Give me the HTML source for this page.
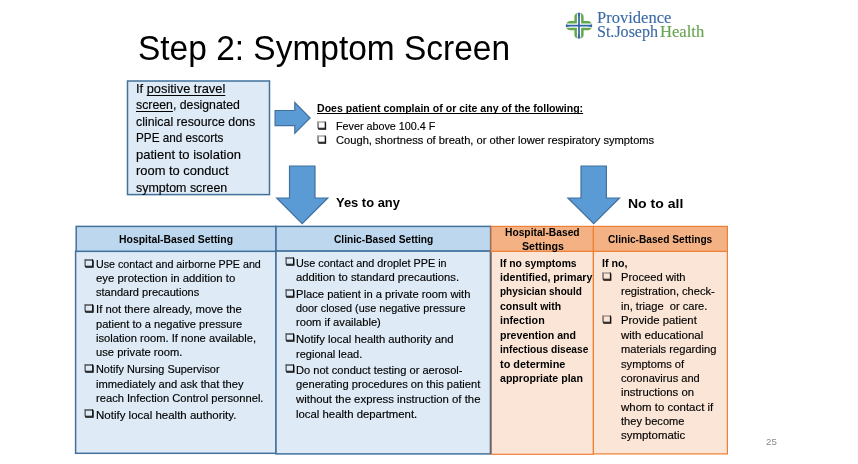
<!DOCTYPE html>
<html lang="en"><head><meta charset="utf-8">
<title>Step 2: Symptom Screen</title>
<style>
html,body{margin:0;padding:0;}
body{width:858px;height:464px;position:relative;overflow:hidden;background:#fff;font-family:'Liberation Sans', sans-serif;color:#000;}
#page{position:absolute;left:0;top:0;width:858px;height:464px;overflow:hidden;background:#fff;filter:blur(0.3px);}
.t{position:absolute;white-space:nowrap;line-height:1;transform-origin:0 0;margin:0;padding:0;}
.r{-webkit-text-stroke:0.15px #000;}
u{text-decoration:underline;text-decoration-thickness:1.2px;text-underline-offset:1.5px;text-decoration-skip-ink:none;}
u.h{text-underline-offset:0.9px;}
svg.bg{position:absolute;left:0;top:0;}
</style></head>
<body>
<div id="page">
<svg class="bg" width="858" height="464" viewBox="0 0 858 464">
<g stroke="#41719c" stroke-width="1.5" stroke-linejoin="miter">
<rect x="127.5" y="81" width="142" height="113.6" fill="#deeaf6"/>
<rect x="75.6" y="251.3" width="200.4" height="202" fill="#deeaf6"/>
<rect x="276" y="250.9" width="214.6" height="203" fill="#deeaf6"/>
<rect x="76.2" y="226.4" width="199.8" height="24.9" fill="#bdd7ee"/>
<rect x="276" y="226.4" width="214.6" height="24.5" fill="#bdd7ee"/>
</g>
<g stroke="#ee8036" stroke-width="1.2">
<rect x="491.2" y="251.3" width="102.2" height="203" fill="#fbe5d6"/>
<rect x="593.4" y="251.3" width="134" height="202.6" fill="#fbe5d6"/>
<rect x="491.2" y="226.4" width="102.2" height="24.9" fill="#f4b183"/>
<rect x="593.4" y="226.4" width="134" height="24.9" fill="#f4b183"/>
</g>
<line x1="490.6" y1="252" x2="490.6" y2="454" stroke="#56687f" stroke-width="1.6"/>
<g fill="#5b9bd5" stroke="#41719c" stroke-width="1.2">
<polygon points="275.1,110.5 294.8,110.5 294.8,102.5 310.1,118 294.8,133.4 294.8,125.7 275.1,125.7"/>
<polygon points="289.5,166 315,166 315,198 327.8,198 302.2,223.6 276.7,198 289.5,198"/>
<polygon points="581,166 606.4,166 606.4,198 619.5,198 593.7,223.6 567.9,198 581,198"/>
</g>
<g transform="translate(579 25.7)">
<g fill="#62a84c">
<path d="M-2.1,-2.1 L-12.6,-2.1 L-12.2,-2.9 Q-11,-4.6 -9.2,-4.6 L-4.6,-4.6 L-4.6,-9.2 Q-4.6,-11 -2.9,-12.2 L-2.1,-12.6 Z"/>
<path d="M-2.1,-2.1 L-12.6,-2.1 L-12.2,-2.9 Q-11,-4.6 -9.2,-4.6 L-4.6,-4.6 L-4.6,-9.2 Q-4.6,-11 -2.9,-12.2 L-2.1,-12.6 Z" transform="scale(-1 1)"/>
<path d="M-2.1,-2.1 L-12.6,-2.1 L-12.2,-2.9 Q-11,-4.6 -9.2,-4.6 L-4.6,-4.6 L-4.6,-9.2 Q-4.6,-11 -2.9,-12.2 L-2.1,-12.6 Z" transform="scale(1 -1)"/>
<path d="M-2.1,-2.1 L-12.6,-2.1 L-12.2,-2.9 Q-11,-4.6 -9.2,-4.6 L-4.6,-4.6 L-4.6,-9.2 Q-4.6,-11 -2.9,-12.2 L-2.1,-12.6 Z" transform="scale(-1 -1)"/>
</g>
<path fill="#2f62a8" d="M-1.5,-12.9 L1.5,-12.9 Q0.85,-11 0.85,-8 L0.85,-0.85 L8,-0.85 Q11,-0.85 13.1,-1.5 L13.1,1.5 Q11,0.85 8,0.85 L0.85,0.85 L0.85,8 Q0.85,11 1.5,12.9 L-1.5,12.9 Q-0.85,11 -0.85,8 L-0.85,0.85 L-8,0.85 Q-11,0.85 -13.1,1.5 L-13.1,-1.5 Q-11,-0.85 -8,-0.85 L-0.85,-0.85 L-0.85,-8 Q-0.85,-11 -1.5,-12.9 Z"/>
</g>
</svg>
<div class="t" style="left:138.30px;top:30.00px;font-size:35.00px;transform:scaleX(0.9563);">Step 2: Symptom Screen</div>
<div class="t r" style="left:136.11px;top:83.00px;font-size:12.20px;transform:scaleX(1.0542);">If <u>positive travel</u></div>
<div class="t r" style="left:136.25px;top:99.00px;font-size:12.20px;transform:scaleX(1.0085);"><u>screen</u>, designated</div>
<div class="t r" style="left:136.19px;top:116.00px;font-size:12.20px;transform:scaleX(1.0165);">clinical resource dons</div>
<div class="t r" style="left:136.36px;top:132.00px;font-size:12.20px;transform:scaleX(0.9621);">PPE and escorts</div>
<div class="t r" style="left:136.45px;top:149.00px;font-size:12.20px;transform:scaleX(1.0675);">patient to isolation</div>
<div class="t r" style="left:136.45px;top:165.00px;font-size:12.20px;transform:scaleX(1.0596);">room to conduct</div>
<div class="t r" style="left:136.25px;top:182.00px;font-size:12.20px;transform:scaleX(1.0203);">symptom screen</div>
<div class="t" style="left:316.76px;top:103.00px;font-size:10.60px;font-weight:700;transform:scaleX(0.9982);"><u class="h">Does patient complain of or cite any of the following:</u></div>
<div class="t r" style="left:335.77px;top:122.00px;font-size:10.00px;transform:scaleX(1.0750);">Fever above 100.4 F</div>
<div class="t r" style="left:335.92px;top:136.00px;font-size:10.00px;transform:scaleX(1.1138);">Cough, shortness of breath, or other lower respiratory symptoms</div>
<div class="t" style="left:335.92px;top:196.00px;font-size:13.50px;font-weight:700;transform:scaleX(0.9572);">Yes to any</div>
<div class="t" style="left:627.96px;top:197.00px;font-size:13.50px;font-weight:700;transform:scaleX(1.0382);">No to all</div>
<div class="t" style="left:119.16px;top:234.00px;font-size:10.70px;font-weight:700;transform:scaleX(0.9744);">Hospital-Based Setting</div>
<div class="t" style="left:333.72px;top:234.00px;font-size:10.70px;font-weight:700;transform:scaleX(0.9552);">Clinic-Based Setting</div>
<div class="t" style="left:505.28px;top:227.00px;font-size:10.70px;font-weight:700;transform:scaleX(0.9592);">Hospital-Based</div>
<div class="t" style="left:521.56px;top:241.00px;font-size:10.70px;font-weight:700;transform:scaleX(0.9971);">Settings</div>
<div class="t" style="left:608.42px;top:234.00px;font-size:10.70px;font-weight:700;transform:scaleX(0.9489);">Clinic-Based Settings</div>
<div class="t r" style="left:96.15px;top:260.00px;font-size:10.20px;transform:scaleX(1.0506);">Use contact and airborne PPE and</div>
<div class="t r" style="left:96.15px;top:274.00px;font-size:10.20px;transform:scaleX(1.1176);">eye protection in addition to</div>
<div class="t r" style="left:96.15px;top:288.00px;font-size:10.20px;transform:scaleX(1.0846);">standard precautions</div>
<div class="t r" style="left:96.15px;top:305.00px;font-size:10.20px;transform:scaleX(1.1072);">If not there already, move the</div>
<div class="t r" style="left:96.15px;top:320.00px;font-size:10.20px;transform:scaleX(1.0898);">patient to a negative pressure</div>
<div class="t r" style="left:96.15px;top:334.00px;font-size:10.20px;transform:scaleX(1.0957);">isolation room. If none available,</div>
<div class="t r" style="left:96.15px;top:348.00px;font-size:10.20px;transform:scaleX(1.0978);">use private room.</div>
<div class="t r" style="left:96.15px;top:365.00px;font-size:10.20px;transform:scaleX(1.0696);">Notify Nursing Supervisor</div>
<div class="t r" style="left:96.15px;top:380.00px;font-size:10.20px;transform:scaleX(1.0944);">immediately and ask that they</div>
<div class="t r" style="left:96.15px;top:394.00px;font-size:10.20px;transform:scaleX(1.0952);">reach Infection Control personnel.</div>
<div class="t r" style="left:96.15px;top:411.00px;font-size:10.20px;transform:scaleX(1.1286);">Notify local health authority.</div>
<div class="t r" style="left:296.25px;top:259.00px;font-size:10.20px;transform:scaleX(1.0639);">Use contact and droplet PPE in</div>
<div class="t r" style="left:296.25px;top:273.00px;font-size:10.20px;transform:scaleX(1.1028);">addition to standard precautions.</div>
<div class="t r" style="left:296.25px;top:290.00px;font-size:10.20px;transform:scaleX(1.0999);">Place patient in a private room with</div>
<div class="t r" style="left:296.25px;top:304.00px;font-size:10.20px;transform:scaleX(1.0652);">door closed (use negative pressure</div>
<div class="t r" style="left:296.25px;top:318.00px;font-size:10.20px;transform:scaleX(1.0930);">room if available)</div>
<div class="t r" style="left:296.25px;top:335.00px;font-size:10.20px;transform:scaleX(1.1090);">Notify local health authority and</div>
<div class="t r" style="left:296.25px;top:350.00px;font-size:10.20px;transform:scaleX(1.0830);">regional lead.</div>
<div class="t r" style="left:296.25px;top:366.00px;font-size:10.20px;transform:scaleX(1.0888);">Do not conduct testing or aerosol-</div>
<div class="t r" style="left:296.25px;top:380.00px;font-size:10.20px;transform:scaleX(1.0960);">generating procedures on this patient</div>
<div class="t r" style="left:296.25px;top:395.00px;font-size:10.20px;transform:scaleX(1.1156);">without the express instruction of the</div>
<div class="t r" style="left:296.25px;top:410.00px;font-size:10.20px;transform:scaleX(1.1151);">local health department.</div>
<div class="t" style="left:499.75px;top:259.00px;font-size:10.30px;font-weight:700;transform:scaleX(1.0069);">If no symptoms</div>
<div class="t" style="left:499.75px;top:273.00px;font-size:10.30px;font-weight:700;transform:scaleX(1.0357);">identified, primary</div>
<div class="t" style="left:499.75px;top:287.00px;font-size:10.30px;font-weight:700;transform:scaleX(0.9738);">physician should</div>
<div class="t" style="left:499.75px;top:302.00px;font-size:10.30px;font-weight:700;transform:scaleX(1.0170);">consult with</div>
<div class="t" style="left:499.75px;top:316.00px;font-size:10.30px;font-weight:700;transform:scaleX(1.0414);">infection</div>
<div class="t" style="left:499.75px;top:331.00px;font-size:10.30px;font-weight:700;transform:scaleX(1.0297);">prevention and</div>
<div class="t" style="left:499.75px;top:345.00px;font-size:10.30px;font-weight:700;transform:scaleX(0.9898);">infectious disease</div>
<div class="t" style="left:499.75px;top:360.00px;font-size:10.30px;font-weight:700;transform:scaleX(1.0574);">to determine</div>
<div class="t" style="left:499.75px;top:374.00px;font-size:10.30px;font-weight:700;transform:scaleX(1.0282);">appropriate plan</div>
<div class="t" style="left:601.85px;top:259.00px;font-size:10.30px;font-weight:700;transform:scaleX(1.0381);">If no,</div>
<div class="t r" style="left:620.85px;top:273.00px;font-size:10.20px;transform:scaleX(1.0961);">Proceed with</div>
<div class="t r" style="left:620.85px;top:287.00px;font-size:10.20px;transform:scaleX(1.0893);">registration, check-</div>
<div class="t r" style="left:620.85px;top:302.00px;font-size:10.20px;transform:scaleX(1.0894);">in, triage&nbsp; or care.</div>
<div class="t r" style="left:620.85px;top:316.00px;font-size:10.20px;transform:scaleX(1.1151);">Provide patient</div>
<div class="t r" style="left:620.85px;top:331.00px;font-size:10.20px;transform:scaleX(1.1259);">with educational</div>
<div class="t r" style="left:620.85px;top:345.00px;font-size:10.20px;transform:scaleX(1.0935);">materials regarding</div>
<div class="t r" style="left:620.85px;top:360.00px;font-size:10.20px;transform:scaleX(1.0928);">symptoms of</div>
<div class="t r" style="left:620.85px;top:374.00px;font-size:10.20px;transform:scaleX(1.0861);">coronavirus and</div>
<div class="t r" style="left:620.85px;top:388.00px;font-size:10.20px;transform:scaleX(1.1109);">instructions on</div>
<div class="t r" style="left:620.85px;top:403.00px;font-size:10.20px;transform:scaleX(1.1238);">whom to contact if</div>
<div class="t r" style="left:620.85px;top:417.00px;font-size:10.20px;transform:scaleX(1.0874);">they become</div>
<div class="t r" style="left:620.85px;top:431.00px;font-size:10.20px;transform:scaleX(1.1236);">symptomatic</div>
<div class="t" style="left:765.54px;top:437.00px;font-size:9.80px;color:#8a8a8a;transform:scaleX(0.9891);">25</div>
<div class="t" style="left:597.12px;top:10.00px;font-size:16.60px;color:#3a69a4;font-family:'Liberation Serif', serif;transform:scaleX(0.9953);-webkit-text-stroke:0.12px #3a69a4;">Providence</div>
<div class="t" style="left:596.87px;top:24.00px;font-size:16.60px;color:#3a69a4;font-family:'Liberation Serif', serif;transform:scaleX(0.9660);-webkit-text-stroke:0.12px #3a69a4;">St.Joseph</div>
<div class="t" style="left:659.59px;top:24.00px;font-size:16.60px;color:#65a24e;font-family:'Liberation Serif', serif;transform:scaleX(0.9987);-webkit-text-stroke:0.12px #65a24e;">Health</div>
<div class="t" style="left:317.49px;top:120.00px;font-size:9.41px;font-family:'Liberation Sans','DejaVu Sans',sans-serif;transform:scaleX(1.0971);text-shadow:0.5px 0.5px 0 #000;">&#10065;</div>
<div class="t" style="left:317.49px;top:134.00px;font-size:9.41px;font-family:'Liberation Sans','DejaVu Sans',sans-serif;transform:scaleX(1.0971);text-shadow:0.5px 0.5px 0 #000;">&#10065;</div>
<div class="t" style="left:84.25px;top:258.00px;font-size:9.68px;font-family:'Liberation Sans','DejaVu Sans',sans-serif;transform:scaleX(1.1452);text-shadow:0.5px 0.5px 0 #000;">&#10065;</div>
<div class="t" style="left:84.25px;top:303.00px;font-size:9.68px;font-family:'Liberation Sans','DejaVu Sans',sans-serif;transform:scaleX(1.1452);text-shadow:0.5px 0.5px 0 #000;">&#10065;</div>
<div class="t" style="left:84.25px;top:363.00px;font-size:9.68px;font-family:'Liberation Sans','DejaVu Sans',sans-serif;transform:scaleX(1.1452);text-shadow:0.5px 0.5px 0 #000;">&#10065;</div>
<div class="t" style="left:84.25px;top:408.00px;font-size:9.68px;font-family:'Liberation Sans','DejaVu Sans',sans-serif;transform:scaleX(1.1452);text-shadow:0.5px 0.5px 0 #000;">&#10065;</div>
<div class="t" style="left:284.64px;top:256.00px;font-size:9.68px;font-family:'Liberation Sans','DejaVu Sans',sans-serif;transform:scaleX(1.1230);text-shadow:0.5px 0.5px 0 #000;">&#10065;</div>
<div class="t" style="left:284.64px;top:288.00px;font-size:9.68px;font-family:'Liberation Sans','DejaVu Sans',sans-serif;transform:scaleX(1.1230);text-shadow:0.5px 0.5px 0 #000;">&#10065;</div>
<div class="t" style="left:284.64px;top:332.00px;font-size:9.68px;font-family:'Liberation Sans','DejaVu Sans',sans-serif;transform:scaleX(1.1230);text-shadow:0.5px 0.5px 0 #000;">&#10065;</div>
<div class="t" style="left:284.64px;top:363.00px;font-size:9.68px;font-family:'Liberation Sans','DejaVu Sans',sans-serif;transform:scaleX(1.1230);text-shadow:0.5px 0.5px 0 #000;">&#10065;</div>
<div class="t" style="left:602.38px;top:271.00px;font-size:9.41px;font-family:'Liberation Sans','DejaVu Sans',sans-serif;transform:scaleX(1.1230);text-shadow:0.5px 0.5px 0 #000;">&#10065;</div>
<div class="t" style="left:602.38px;top:314.00px;font-size:9.41px;font-family:'Liberation Sans','DejaVu Sans',sans-serif;transform:scaleX(1.1230);text-shadow:0.5px 0.5px 0 #000;">&#10065;</div>
</div>
</body></html>
